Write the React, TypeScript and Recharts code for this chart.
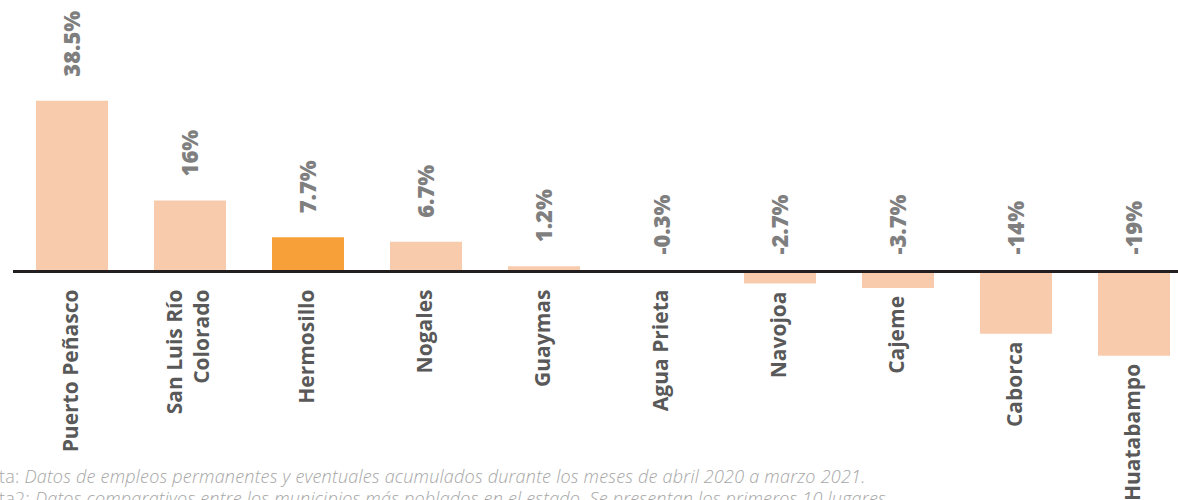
import React from "react";
import { BarChart, Bar, XAxis, YAxis, ReferenceLine, LabelList, Cell } from "recharts";

const municipios = [
  "Puerto Peñasco",
  "San Luis Río Colorado",
  "Hermosillo",
  "Nogales",
  "Guaymas",
  "Agua Prieta",
  "Navojoa",
  "Cajeme",
  "Caborca",
  "Huatabampo",
];
const variacion = [38.5, 16, 7.7, 6.7, 1.2, -0.3, -2.7, -3.7, -14, -19];
const destacado = "Hermosillo";

const nota1 = "Datos de empleos permanentes y eventuales acumulados durante los meses de abril 2020 a marzo 2021.";
const nota2 = "Datos comparativos entre los municipios más poblados en el estado. Se presentan los primeros 10 lugares.";

const data = municipios.map((name, i) => ({ name, value: variacion[i] }));

const FONT = "'Open Sans', sans-serif";

function wrap(text: string, max = 14): string[] {
  const lines: string[] = [];
  let cur = "";
  for (const w of text.split(" ")) {
    const next = cur ? cur + " " + w : w;
    if (next.length > max && cur) {
      lines.push(cur);
      cur = w;
    } else cur = next;
  }
  if (cur) lines.push(cur);
  return lines;
}

// top / bottom of a bar, whatever the sign of its height
function edges(p: any) {
  const y = Number(p.y), h = Number(p.height);
  return { top: Math.min(y, y + h), bottom: Math.max(y, y + h) };
}

const ValueLabel = (p: any) => {
  const cx = Number(p.x) + Number(p.width) / 2;
  const { top } = edges(p);
  const v = variacion[p.index];
  const anchor = v >= 0 ? top - 24 : top - 17;
  return (
    <text
      x={cx}
      y={anchor}
      dy="0.36em"
      textAnchor="start"
      transform={`rotate(-90, ${cx}, ${anchor})`}
      fill="#7f7f7f"
      fontFamily={FONT}
      fontWeight={800}
      fontSize={22}
    >
      {`${v}%`}
    </text>
  );
};

const NameLabel = (p: any) => {
  const cx = Number(p.x) + Number(p.width) / 2 - 2;
  const { top, bottom } = edges(p);
  const v = variacion[p.index];
  const anchor = v >= 0 ? bottom + 18 : Math.max(top + 18, bottom + 8);
  const lines = wrap(municipios[p.index]);
  const step = 27;
  return (
    <g>
      {lines.map((line, i) => {
        const lx = cx + (i - (lines.length - 1) / 2) * step;
        return (
          <text
            key={i}
            x={lx}
            y={anchor}
            dy="0.36em"
            textAnchor="end"
            transform={`rotate(-90, ${lx}, ${anchor})`}
            fill="#595959"
            fontFamily={FONT}
            fontWeight={700}
            fontSize={21}
          >
            {line}
          </text>
        );
      })}
    </g>
  );
};

export default function App() {
  return (
    <div
      style={{
        position: "absolute",
        left: 0,
        top: 0,
        width: 1178,
        height: 500,
        overflow: "hidden",
        background: "#fff",
      }}
    >
      <BarChart
        width={1200}
        height={500}
        data={data}
        margin={{ top: 94, right: 7, bottom: 51, left: 13 }}
        barCategoryGap="19.5%"
      >
        <XAxis dataKey="name" hide />
        <YAxis hide domain={[-40, 40]} />
        <Bar dataKey="value" isAnimationActive={false}>
          {data.map((d) => (
            <Cell key={d.name} fill={d.name === destacado ? "#f7a039" : "#f8cbad"} />
          ))}
          <LabelList dataKey="value" content={ValueLabel} />
          <LabelList dataKey="name" content={NameLabel} />
        </Bar>
        <ReferenceLine y={0} stroke="#231f20" strokeWidth={3} ifOverflow="extendDomain" />
      </BarChart>
      <div
        style={{
          position: "absolute",
          left: -25,
          top: 465,
          fontFamily: FONT,
          fontWeight: 300,
          fontSize: 18,
          letterSpacing: 0.22,
          lineHeight: "22px",
          color: "#a6a6a6",
          whiteSpace: "nowrap",
        }}
      >
        <div>
          Nota: <i>{nota1}</i>
        </div>
        <div>
          Nota2: <i>{nota2}</i>
        </div>
      </div>
    </div>
  );
}
